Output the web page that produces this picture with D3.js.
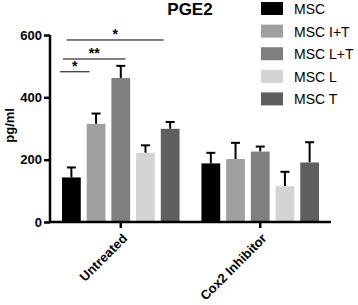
<!DOCTYPE html>
<html>
<head>
<meta charset="utf-8">
<script src="https://cdn.jsdelivr.net/npm/d3@7"></script>
<style>
  body { margin: 0; background: #fff; }
  svg { display: block; font-family: "Liberation Sans", Arial, sans-serif; }
</style>
</head>
<body>
<div id="wrapper"></div>
<script>
const groups = ["Untreated", "Cox2 Inhibitor"]
const series = ["MSC", "MSC I+T", "MSC L+T", "MSC L", "MSC T"]
const colors = ["#000000", "#a0a0a0", "#7f7f7f", "#d4d4d4", "#5f5f5f"]

// mean values per group, in series order
const means = [
  [143, 315, 462, 222, 299],
  [188, 202, 226, 115, 191]
]
// upper error (mean + sd)
const upper = [
  [175, 348, 501, 246, 321],
  [222, 254, 242, 161, 256]
]

const yTicks = [0, 200, 400, 600]

// significance brackets within "Untreated"
const sigs = [
  {from: 0, to: 1, y: 482, label: "*", f0: -0.1, f1: 0.15},
  {from: 0, to: 2, y: 523, label: "**", f0: 0.05, f1: 0.75},
  {from: 0, to: 4, y: 584, label: "*", f0: 0.25, f1: 0.15}
]

const dimensions = {
  width: 358,
  height: 305,
  margin: {top: 35, right: 27, bottom: 83, left: 50}
}
dimensions.boundedWidth = dimensions.width - dimensions.margin.left - dimensions.margin.right
dimensions.boundedHeight = dimensions.height - dimensions.margin.top - dimensions.margin.bottom

const wrapper = d3.select("#wrapper")
  .append("svg")
    .attr("width", dimensions.width)
    .attr("height", dimensions.height)

const bounds = wrapper.append("g")
  .attr("transform", `translate(${dimensions.margin.left},${dimensions.margin.top})`)

const xScale = d3.scaleBand()
  .domain(groups)
  .range([0, dimensions.boundedWidth])
  .paddingInner(0.157)
  .paddingOuter(0.086)

const subScale = d3.scaleBand()
  .domain(d3.range(series.length))
  .range([0, xScale.bandwidth()])
  .paddingInner(0.24)
  .paddingOuter(0)

const yScale = d3.scaleLinear()
  .domain([0, 600])
  .range([dimensions.boundedHeight, 0])

// bars
const groupG = bounds.selectAll(".group")
  .data(groups)
  .enter().append("g")
    .attr("class", "group")
    .attr("transform", d => `translate(${xScale(d)},0)`)

groupG.each(function(g, gi) {
  const sel = d3.select(this)
  const rows = series.map((s, i) => ({i, mean: means[gi][i], up: upper[gi][i]}))

  // error bars (upper only)
  sel.selectAll(".err")
    .data(rows)
    .enter().append("line")
      .attr("x1", d => subScale(d.i) + subScale.bandwidth() / 2)
      .attr("x2", d => subScale(d.i) + subScale.bandwidth() / 2)
      .attr("y1", d => yScale(d.mean))
      .attr("y2", d => yScale(d.up))
      .attr("stroke", "#000")
      .attr("stroke-width", 2)

  sel.selectAll(".cap")
    .data(rows)
    .enter().append("line")
      .attr("x1", d => subScale(d.i) + subScale.bandwidth() / 2 - 4.5)
      .attr("x2", d => subScale(d.i) + subScale.bandwidth() / 2 + 4.5)
      .attr("y1", d => yScale(d.up))
      .attr("y2", d => yScale(d.up))
      .attr("stroke", "#000")
      .attr("stroke-width", 2)

  sel.selectAll("rect")
    .data(rows)
    .enter().append("rect")
      .attr("x", d => subScale(d.i))
      .attr("y", d => yScale(d.mean))
      .attr("width", subScale.bandwidth())
      .attr("height", d => yScale(0) - yScale(d.mean))
      .attr("fill", d => colors[d.i])
})

// significance lines
const g0 = xScale(groups[0])
const sigG = bounds.append("g")
sigs.forEach(s => {
  const x0 = g0 + subScale(s.from) + subScale.bandwidth() * s.f0
  const x1 = g0 + subScale(s.to) + subScale.bandwidth() * s.f1
  sigG.append("line")
    .attr("x1", x0).attr("x2", x1)
    .attr("y1", yScale(s.y)).attr("y2", yScale(s.y))
    .attr("stroke", "#000")
    .attr("stroke-width", 1)
  sigG.append("text")
    .attr("x", (x0 + x1) / 2)
    .attr("y", yScale(s.y) - 1)
    .attr("text-anchor", "middle")
    .attr("font-size", 14)
    .attr("font-weight", "bold")
    .text(s.label)
})

// axes
const yAxis = bounds.append("g")
  .call(d3.axisLeft(yScale).tickValues(yTicks).tickSize(6).tickPadding(2))
yAxis.select(".domain").attr("stroke-width", 2.5).attr("d", `M0,${yScale(600)}V${yScale(0)}`)
yAxis.selectAll(".tick line").attr("stroke-width", 2.5)
yAxis.selectAll("text")
  .attr("font-size", 13)
  .attr("font-weight", "bold")
  .attr("fill", "#000")
  .attr("font-family", "Liberation Sans, Arial, sans-serif")

const xAxis = bounds.append("g")
  .attr("transform", `translate(0,${dimensions.boundedHeight})`)
  .call(d3.axisBottom(xScale).tickSize(6))
xAxis.select(".domain").attr("stroke-width", 2.5).attr("d", `M-1,0H${dimensions.boundedWidth}`)
xAxis.selectAll(".tick line").attr("stroke-width", 2.5)
xAxis.selectAll("text")
  .attr("x", 0).attr("y", 0).attr("dy", "0.35em")
  .attr("text-anchor", "end")
  .attr("transform", "translate(4,14) rotate(-45)")
  .attr("font-size", 13)
  .attr("font-weight", "bold")
  .attr("fill", "#000")
  .attr("font-family", "Liberation Sans, Arial, sans-serif")

// title
wrapper.append("text")
  .attr("x", 190)
  .attr("y", 15)
  .attr("text-anchor", "middle")
  .attr("font-size", 17)
  .attr("font-weight", "bold")
  .text("PGE2")

// y label
wrapper.append("text")
  .attr("transform", `translate(14,${dimensions.margin.top + yScale(310)}) rotate(-90)`)
  .attr("text-anchor", "middle")
  .attr("font-size", 13)
  .attr("font-weight", "bold")
  .text("pg/ml")

// legend
const legend = wrapper.append("g")
  .attr("transform", "translate(261,2)")
const legendRows = legend.selectAll("g")
  .data(series)
  .enter().append("g")
    .attr("transform", (d, i) => `translate(0,${i * 22.6})`)
legendRows.append("rect")
  .attr("width", 22)
  .attr("height", 13)
  .attr("fill", (d, i) => colors[i])
legendRows.append("text")
  .attr("x", 33)
  .attr("y", 7)
  .attr("dy", "0.35em")
  .attr("font-size", 14)
  .text(d => d)
</script>
</body>
</html>
